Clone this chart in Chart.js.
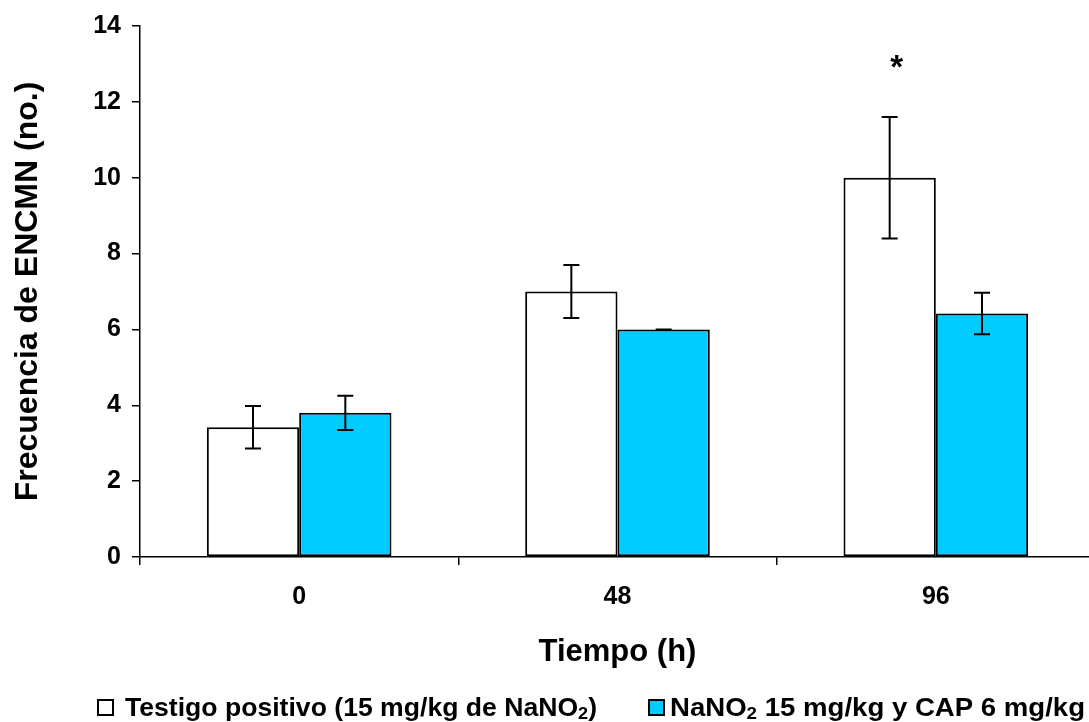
<!DOCTYPE html>
<html lang="es">
<head>
<meta charset="UTF-8">
<title>Frecuencia de ENCMN</title>
<script src="https://cdn.jsdelivr.net/npm/chart.js@4"></script>
<style>
  html, body { margin: 0; padding: 0; background: #fff; overflow: hidden; }
  /* un poco más ancho que la ventana: el eje x sigue más allá del borde derecho */
  #wrap { width: 1095px; height: 722px; }
</style>
</head>
<body>
<div id="wrap"><canvas id="grafico"></canvas></div>
<script>
// datos
const tiempos = ['0', '48', '96'];
const nombresSeries = ['Testigo positivo (15 mg/kg de NaNO2)', 'NaNO2 15 mg/kg y CAP 6 mg/kg'];
const testigo = [3.42, 7.0, 10.0];
const testigoError = [0.56, 0.70, 1.60];
const nanoCap = [3.80, 6.0, 6.42];
const nanoCapError = [0.45, 0.0, 0.55];
const marcasTestigo = ['', '', '*'];
const alturaMarca = 13.0;
const ejeY = { min: 0, max: 14, paso: 2 };

const fuente = '"Liberation Sans", Arial, Helvetica, sans-serif';
const cian = '#00CCFF';

Chart.defaults.color = '#000';
Chart.defaults.font.family = fuente;

// barras de error + asterisco
const barrasError = {
    id: 'barrasError',
    afterDatasetsDraw(chart) {
        const ctx = chart.ctx;
        const y = chart.scales.y;
        ctx.save();
        ctx.strokeStyle = '#000';
        ctx.lineWidth = 2;
        chart.data.datasets.forEach((ds, i) => {
            const meta = chart.getDatasetMeta(i);
            meta.data.forEach((barra, j) => {
                const v = ds.data[j];
                const e = ds.errores[j];
                const yArriba = y.getPixelForValue(v + e);
                const yAbajo = y.getPixelForValue(v - e);
                ctx.beginPath();
                ctx.moveTo(barra.x, yArriba);
                ctx.lineTo(barra.x, yAbajo);
                ctx.moveTo(barra.x - 8, yArriba);
                ctx.lineTo(barra.x + 8, yArriba);
                ctx.moveTo(barra.x - 8, yAbajo);
                ctx.lineTo(barra.x + 8, yAbajo);
                ctx.stroke();
            });
        });
        // asterisco de significancia
        const meta0 = chart.getDatasetMeta(0);
        ctx.fillStyle = '#000';
        ctx.font = 'bold 33px ' + fuente;
        ctx.textAlign = 'center';
        ctx.textBaseline = 'alphabetic';
        marcasTestigo.forEach((m, j) => {
            if (!m) return;
            ctx.fillText(m, meta0.data[j].x + 7, y.getPixelForValue(alturaMarca) + 14);
        });
        ctx.restore();
    }
};

function partesTexto(texto) {
    // "NaNO2" -> "NaNO" con el 2 como subíndice
    const trozos = texto.split('NaNO2');
    const partes = [];
    trozos.forEach((t, i) => {
        if (i > 0) {
            partes.push({ t: 'NaNO', sub: false });
            partes.push({ t: '2', sub: true });
        }
        if (t) partes.push({ t: t, sub: false });
    });
    return partes;
}

// leyenda propia (para poder poner subíndices)
const leyenda = {
    id: 'leyenda',
    afterDraw(chart) {
        const ctx = chart.ctx;
        const items = [
            { caja: 98, texto: 125, fin: 597 },
            { caja: 649, texto: 670, fin: 1085 }
        ];
        const base = 716;
        const lado = 15;
        ctx.save();
        chart.data.datasets.forEach((ds, i) => {
            const it = items[i];
            ctx.fillStyle = ds.backgroundColor;
            ctx.fillRect(it.caja, base - lado - 1, lado, lado);
            ctx.strokeStyle = '#000';
            ctx.lineWidth = 2;
            ctx.strokeRect(it.caja, base - lado - 1, lado, lado);

            const partes = partesTexto(ds.label);
            let ancho = 0;
            partes.forEach(p => {
                ctx.font = p.sub ? 'bold 17px ' + fuente : 'bold 25px ' + fuente;
                p.w = ctx.measureText(p.t).width;
                ancho += p.w;
            });
            const esc = (it.fin - it.texto) / ancho;
            ctx.save();
            ctx.translate(it.texto, base);
            ctx.scale(esc, 1);
            ctx.fillStyle = '#000';
            ctx.textBaseline = 'alphabetic';
            ctx.textAlign = 'left';
            let x = 0;
            partes.forEach(p => {
                ctx.font = p.sub ? 'bold 17px ' + fuente : 'bold 25px ' + fuente;
                ctx.fillText(p.t, x, p.sub ? 3 : 0);
                x += p.w;
            });
            ctx.restore();
        });
        ctx.restore();
    }
};

const datos = {
    labels: tiempos,
    datasets: [
        {
            label: nombresSeries[0],
            data: testigo,
            errores: testigoError,
            backgroundColor: '#FFFFFF',
            borderColor: '#000',
            borderWidth: 2,
            borderSkipped: false,
            categoryPercentage: 0.58,
            barPercentage: 1.0
        },
        {
            label: nombresSeries[1],
            data: nanoCap,
            errores: nanoCapError,
            backgroundColor: cian,
            borderColor: '#000',
            borderWidth: 2,
            borderSkipped: false,
            categoryPercentage: 0.58,
            barPercentage: 1.0
        }
    ]
};

const opciones = {
    responsive: true,
    maintainAspectRatio: false,
    animation: false,
    layout: { padding: { top: 25, right: 0, bottom: 0, left: 0 } },
    plugins: {
        legend: { display: false },
        tooltip: { enabled: false }
    },
    scales: {
        x: {
            afterFit: s => { s.height = 165; },
            grid: {
                offset: true,
                drawOnChartArea: false,
                drawTicks: true,
                tickLength: 8,
                color: '#000',
                lineWidth: 1.5
            },
            border: { display: true, color: '#000', width: 1.5 },
            ticks: {
                padding: 17,
                font: { size: 25, weight: 'bold' }
            },
            title: {
                display: true,
                text: 'Tiempo (h)',
                font: { size: 31, weight: 'bold' },
                padding: { top: 0, bottom: 51 }
            }
        },
        y: {
            min: ejeY.min,
            max: ejeY.max,
            afterFit: s => { s.width = 140; },
            grid: {
                drawOnChartArea: false,
                drawTicks: true,
                tickLength: 8,
                color: '#000',
                lineWidth: 1.5
            },
            border: { display: true, color: '#000', width: 1.5 },
            ticks: {
                stepSize: ejeY.paso,
                padding: 11,
                font: { size: 25, weight: 'bold' }
            },
            title: {
                display: true,
                text: 'Frecuencia de ENCMN (no.)',
                font: { size: 32, weight: 'bold' },
                padding: { top: 9, bottom: 0 }
            }
        }
    }
};

new Chart(document.getElementById('grafico').getContext('2d'), {
    type: 'bar',
    data: datos,
    options: opciones,
    plugins: [barrasError, leyenda]
});
</script>
</body>
</html>
